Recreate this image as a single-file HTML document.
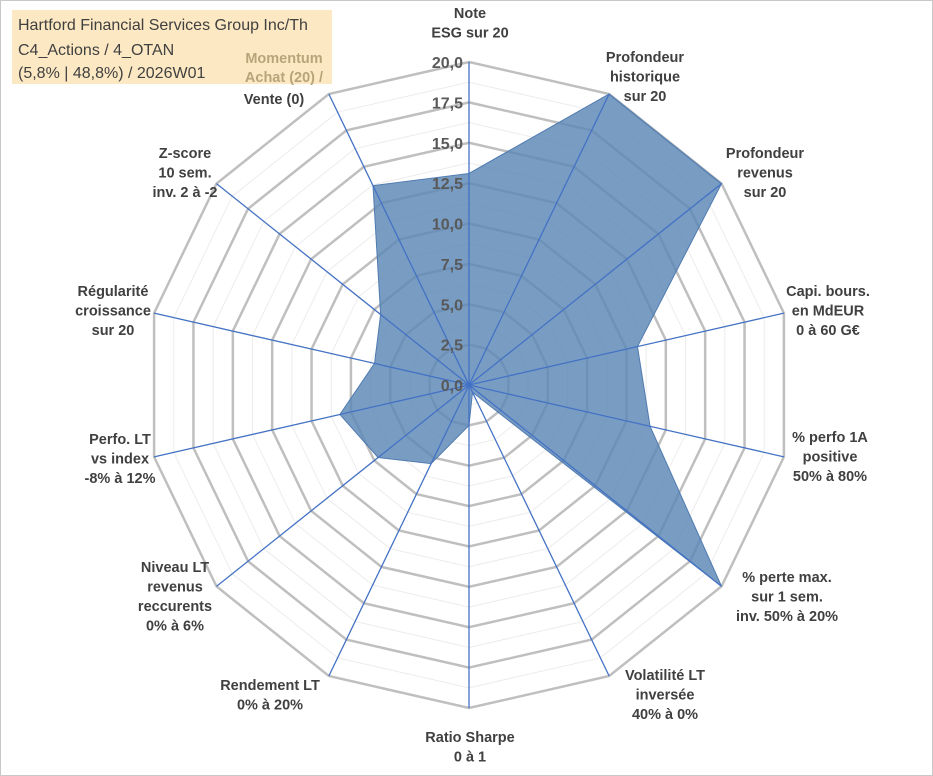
<!DOCTYPE html>
<html><head><meta charset="utf-8"><style>
body{margin:0;background:#fff;font-family:"Liberation Sans",Arial,sans-serif}
#wrap{position:relative;width:933px;height:776px;overflow:hidden}
svg{position:absolute;left:0;top:0}
</style></head><body>
<div id="wrap">
<svg id="chart" width="933" height="776"></svg>
</div>
<script>
const categories=[["Note","ESG sur 20"],["Profondeur","historique","sur 20"],["Profondeur","revenus","sur 20"],["Capi. bours.","en MdEUR","0 à 60 G€"],["% perfo 1A","positive","50% à 80%"],["% perte max.","sur 1 sem.","inv. 50% à 20%"],["Volatilité LT","inversée","40% à 0%"],["Ratio Sharpe","0 à 1"],["Rendement LT","0% à 20%"],["Niveau LT","revenus","reccurents","0% à 6%"],["Perfo. LT","vs index","-8% à 12%"],["Régularité","croissance","sur 20"],["Z-score","10 sem.","inv. 2 à -2"],["Momentum","Achat (20) /","Vente (0)"]];
const values=[13.1,20,20,10.7,11.5,20,0.5,2.5,5.4,7.2,8.2,6,7,13.7];
const tickLabels=["0,0","2,5","5,0","7,5","10,0","12,5","15,0","17,5","20,0"];
const maxVal=20;
const NS="http://www.w3.org/2000/svg";
const svg=document.getElementById('chart');
const cx=469,cy=385,R=323,N=categories.length;
function ang(i){return i*2*Math.PI/N;}
function pt(i,v){const r=v/maxVal*R;return [cx+r*Math.sin(ang(i)),cy-r*Math.cos(ang(i))];}
function mk(tag,attrs){const e=document.createElementNS(NS,tag);for(const k in attrs)e.setAttribute(k,attrs[k]);svg.appendChild(e);return e;}
let b=mk('rect',{x:0.5,y:0.5,width:932,height:775,fill:'none',stroke:'#c8c8c8'});


for(let k=1;k<=16;k++){const v=k*1.25;const p=[];for(let i=0;i<N;i++)p.push(pt(i,v).join(','));
 const major=k%2===0;
 const g=mk('polygon',{points:p.join(' '),fill:'none',stroke:major?'#bfbfbf':'#ececec','stroke-width':major?2.5:1});
 
 }
const sp=values.map((v,i)=>pt(i,v).join(',')).join(' ');
const area=mk('polygon',{points:sp,fill:'#5b86b6','fill-opacity':0.82,stroke:'#4f7bb0','stroke-width':1});


for(let i=0;i<N;i++){const [x,y]=pt(i,maxVal);const l=mk('line',{x1:cx,y1:cy,x2:x,y2:y,stroke:'#4472c4','stroke-width':1.3});
 
 }
tickLabels.forEach((t,k)=>{const v=k*2.5;const y=cy-v/maxVal*R;const tx=mk('text',{x:cx-6,y:y+6,'text-anchor':'end','font-size':16,'font-weight':'bold',fill:'#595959'});tx.textContent=t;
 
 });
const lp=[[470,18],[645,62],[765,158],[828,296],[830,442],[787,582],[665,680],[470,742],[270,690],[175,572],[120,444],[113,296],[185,158],[284,62]];
categories.forEach((lines,i)=>{if(i===13)return;const [x,y]=lp[i];
 const tx=mk('text',{x:x,y:y,'text-anchor':'middle','font-size':14.5,'font-weight':'bold',fill:'#404040'});
 
 
 lines.forEach((ln,j)=>{const s=document.createElementNS(NS,'tspan');s.setAttribute('x',x);s.setAttribute('y',y+j*19.5);s.textContent=ln;tx.appendChild(s);});
});
const tb=mk('rect',{x:12,y:10,width:320,height:74,fill:'#fbe5b8','fill-opacity':0.85});


const tl=[["Hartford Financial Services Group Inc/Th",30],["C4_Actions / 4_OTAN",55],["(5,8% | 48,8%) / 2026W01",78]];
tl.forEach(([t,y])=>{const e=mk('text',{x:18,y:y,'font-size':16,fill:'#404040'});e.textContent=t;
 
 });
[["Momentum",63],["Achat (20) /",82]].forEach(([t,y])=>{const e=mk('text',{x:284,y:y,'text-anchor':'middle','font-size':14.5,'font-weight':'bold',fill:'#b8a47a'});e.textContent=t;
 
 });
const v0=mk('text',{x:274,y:104,'text-anchor':'middle','font-size':14.5,'font-weight':'bold',fill:'#404040'});v0.textContent="Vente (0)";


</script>
</body></html>
